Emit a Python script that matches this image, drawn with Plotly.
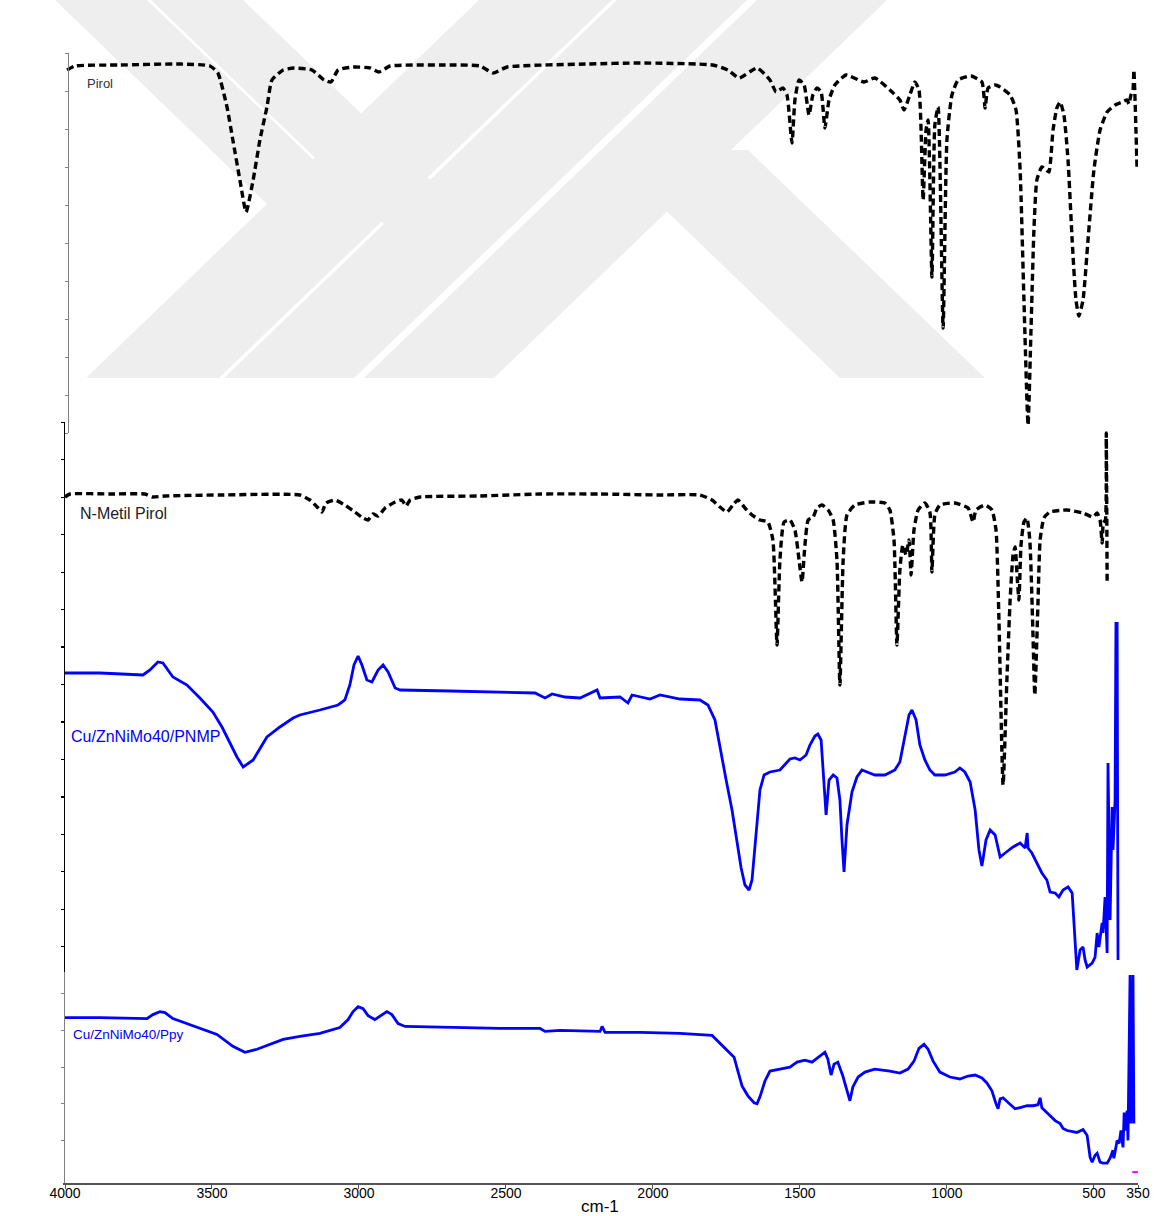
import plotly.graph_objects as go

# ---- FT-IR spectra (wavenumber in cm-1, transmittance in arbitrary units) ----

# Pirol
pirol_wn = [3993, 3966, 3813, 3609, 3507, 3480, 3449, 3429, 3405, 3384, 3360, 3337, 3313, 3296,
            3258, 3221, 3160, 3119, 3095, 3071, 3020, 2962, 2932, 2894, 2721, 2588, 2544, 2496,
            2221, 2044, 1796, 1745, 1707, 1646, 1602, 1581, 1558, 1544, 1527, 1517, 1503, 1486,
            1469, 1456, 1442, 1428, 1415, 1401, 1381, 1343, 1282, 1245, 1194, 1160, 1146, 1126,
            1109, 1095, 1081, 1071, 1064, 1051, 1041, 1030, 1013, 1000, 983, 962, 918, 881, 870,
            860, 836, 819, 785, 765, 751, 738, 724, 714, 704, 694, 677, 663, 653, 639, 626, 615,
            602, 588, 574, 561, 551, 537, 520, 500, 479, 455, 428, 404, 387, 381, 374, 367, 364,
            360, 357, 353]
pirol_t = [36.3, 36.7, 36.8, 36.9, 36.7, 36.0, 32.6, 29.3, 25.3, 22.1, 25.3, 29.3, 32.6, 35.3,
           36.3, 36.5, 36.3, 35.3, 35.1, 36.3, 36.6, 36.5, 36.1, 36.7, 36.8, 36.7, 36.0, 36.6,
           36.9, 37.0, 36.8, 36.3, 35.5, 36.5, 35.3, 34.1, 34.5, 33.8, 29.0, 33.3, 35.3, 34.8,
           31.8, 33.8, 34.5, 34.1, 30.5, 33.3, 34.8, 35.8, 35.1, 35.5, 34.3, 33.3, 32.3, 33.8,
           35.1, 34.3, 23.3, 30.3, 31.3, 15.6, 30.8, 32.6, 10.5, 29.3, 33.8, 35.3, 35.7, 35.1, 32.5,
           34.5, 34.8, 34.6, 33.8, 32.3, 26.3, 13.3, 0.8, 10.3, 20.3, 25.3, 26.6, 26.3, 26.1, 30.3,
           32.5, 33.1, 31.8, 27.3, 19.3, 13.3, 11.7, 13.3, 19.3, 26.3, 30.3, 32.1, 32.8, 33.1,
           33.3, 32.9, 33.8, 34.3, 36.3, 33.3, 30.3, 26.3]

# N-Metil Pirol
nmp_wn = [4000, 3983, 3847, 3728, 3704, 3660, 3473, 3201, 3167, 3139, 3126, 3112, 3082, 3048,
          3014, 2986, 2969, 2952, 2935, 2911, 2877, 2854, 2840, 2826, 2792, 2588, 2384, 2180,
          1976, 1840, 1799, 1772, 1748, 1728, 1711, 1687, 1663, 1636, 1609, 1592, 1578, 1568,
          1554, 1534, 1517, 1503, 1493, 1483, 1472, 1455, 1442, 1425, 1404, 1387, 1374, 1364,
          1353, 1340, 1313, 1262, 1211, 1194, 1180, 1170, 1160, 1150, 1139, 1129, 1122, 1112,
          1098, 1075, 1058, 1051, 1041, 1024, 973, 928, 911, 901, 870, 847, 833, 823, 809, 796,
          785, 775, 768, 761, 755, 748, 738, 728, 718, 708, 701, 690, 683, 670, 650, 592, 537,
          503, 489, 479, 472, 468, 461, 458, 455]
nmp_t = [30.0, 30.3, 30.3, 30.3, 30.0, 30.1, 30.2, 30.2, 29.7, 28.9, 28.5, 29.4, 29.7, 29.2,
         28.5, 27.9, 27.7, 28.3, 28.1, 28.9, 29.5, 29.7, 29.1, 29.7, 30.0, 30.1, 30.3, 30.3,
         30.2, 30.2, 29.7, 29.0, 28.5, 29.2, 29.7, 28.9, 28.2, 27.7, 27.5, 25.7, 15.2, 23.7,
         27.5, 27.7, 26.7, 23.7, 21.5, 25.2, 27.7, 28.0, 28.9, 29.2, 28.7, 27.7, 23.7, 11.2,
         23.7, 28.2, 29.2, 29.5, 29.4, 28.7, 25.7, 15.2, 22.7, 25.2, 24.2, 25.7, 22.2, 26.7,
         28.7, 29.4, 28.5, 22.5, 28.2, 29.2, 29.4, 28.9, 27.5, 28.7, 29.2, 28.7, 26.7, 17.7, 1.2,
         11.7, 19.7, 24.2, 25.0, 22.0, 19.7, 25.2, 27.5, 27.9, 25.7, 17.0, 10.2, 19.7, 25.7, 27.9,
         28.5, 28.7, 28.4, 28.0, 28.4, 27.7, 25.4, 27.4, 27.7, 36.4, 21.4]

# Cu/ZnNiMo40/PNMP
pnmp_wn = [4000, 3881, 3735, 3711, 3684, 3667, 3633, 3585, 3541, 3497, 3466, 3439, 3415, 3394,
           3360, 3313, 3269, 3224, 3201, 3133, 3071, 3048, 3031, 3017, 3003, 2990, 2973, 2956,
           2935, 2918, 2901, 2877, 2860, 2690, 2520, 2401, 2367, 2343, 2299, 2248, 2190, 2180,
           2112, 2085, 2071, 2010, 1976, 1908, 1840, 1813, 1789, 1772, 1751, 1731, 1714, 1700,
           1687, 1673, 1663, 1649, 1636, 1622, 1602, 1568, 1551, 1534, 1517, 1500, 1479, 1466,
           1449, 1439, 1428, 1422, 1411, 1401, 1387, 1374, 1364, 1357, 1350, 1340, 1323, 1306,
           1289, 1272, 1245, 1211, 1177, 1160, 1143, 1129, 1119, 1105, 1092, 1075, 1058, 1041,
           1007, 973, 956, 939, 921, 904, 891, 881, 867, 853, 836, 819, 802, 775, 751, 734, 727,
           724, 711, 694, 677, 660, 649, 632, 619, 605, 588, 574, 568, 561, 558, 547, 537, 530,
           523, 506, 496, 489, 483, 472, 469, 462, 455, 452, 445, 438, 435, 428, 425, 421, 418]
pnmp_t = [29.9, 29.9, 29.7, 30.2, 31.0, 30.9, 29.5, 28.7, 27.4, 26.0, 24.5, 22.9, 21.5, 20.5,
          21.2, 23.5, 24.5, 25.4, 25.7, 26.2, 26.7, 27.2, 28.7, 30.7, 31.6, 30.7, 29.2, 29.0,
          30.2, 30.7, 30.0, 28.4, 28.2, 28.1, 28.0, 27.9, 27.4, 27.8, 27.5, 27.4, 28.2, 27.4,
          27.5, 26.9, 27.7, 27.3, 27.7, 27.3, 27.2, 26.7, 25.2, 22.4, 19.2, 16.2, 13.2, 10.4,
          8.7, 8.2, 9.2, 14.2, 18.2, 19.7, 20.0, 20.2, 20.7, 21.3, 21.4, 21.2, 21.7, 22.7,
          23.6, 23.8, 23.2, 20.2, 15.7, 19.2, 19.7, 19.4, 17.2, 13.2, 10.0, 14.7, 18.0, 19.5,
          20.2, 20.0, 19.7, 19.7, 20.2, 21.0, 23.4, 25.7, 26.2, 25.2, 22.7, 21.2, 20.2, 19.7,
          19.7, 20.0, 20.4, 20.0, 19.0, 16.2, 12.2, 10.6, 13.2, 14.2, 13.7, 11.5, 11.9, 12.5,
          12.9, 12.4, 13.9, 12.4, 11.9, 10.9, 9.9, 9.2, 8.0, 7.9, 7.5, 8.2, 8.5, 7.9, 5.2, 1.9,
          0.2, 2.2, 2.5, 1.2, 0.5, 0.9, 1.5, 3.9, 2.5, 4.9, 3.9, 7.5, 1.9, 20.9, 5.2, 16.5, 12.2,
          17.2, 34.9, 34.9, 1.2]

# Cu/ZnNiMo40/Ppy
ppy_wn = [4000, 3881, 3721, 3701, 3677, 3660, 3633, 3585, 3541, 3483, 3429, 3388, 3347, 3313,
          3258, 3201, 3133, 3065, 3037, 3020, 3003, 2986, 2969, 2946, 2925, 2905, 2888, 2867,
          2843, 2690, 2520, 2384, 2367, 2316, 2180, 2173, 2163, 2044, 1908, 1799, 1772, 1745,
          1724, 1711, 1697, 1677, 1656, 1646, 1636, 1619, 1602, 1568, 1534, 1510, 1483, 1459,
          1432, 1415, 1405, 1394, 1384, 1371, 1354, 1340, 1330, 1320, 1302, 1279, 1245, 1194,
          1160, 1132, 1112, 1095, 1078, 1064, 1047, 1024, 990, 956, 928, 904, 881, 864, 847, 833,
          826, 819, 809, 791, 768, 751, 727, 707, 690, 683, 677, 656, 632, 615, 605, 591, 558,
          537, 523, 513, 506, 496, 489, 479, 469, 455, 445, 435, 432, 421, 414, 408, 401, 397,
          391, 387, 384, 377, 374, 367, 364]
ppy_t = [16.7, 16.7, 16.6, 17.0, 17.3, 17.2, 16.6, 16.1, 15.6, 15.0, 13.8, 13.2, 13.5, 13.9,
         14.5, 14.8, 15.1, 15.7, 16.5, 17.3, 17.8, 17.6, 16.9, 16.5, 16.9, 17.3, 17.0, 16.1,
         15.8, 15.7, 15.6, 15.6, 15.3, 15.4, 15.3, 15.8, 15.2, 15.2, 15.1, 14.9, 14.1, 13.3,
         12.7, 11.3, 9.8, 8.8, 8.1, 8.0, 8.7, 10.3, 11.3, 11.5, 11.7, 12.2, 12.4, 12.2,
         12.8, 13.2, 12.5, 10.9, 12.0, 12.2, 10.8, 9.3, 8.3, 9.7, 10.7, 11.2, 11.5, 11.3,
         11.1, 11.5, 12.3, 13.6, 14.0, 13.5, 12.3, 11.2, 10.7, 10.5, 10.8, 10.9, 10.6, 10.1,
         9.3, 8.0, 7.5, 8.5, 8.6, 8.1, 7.5, 7.6, 7.8, 7.8, 7.9, 8.6, 7.6, 7.0, 6.3, 6.0, 5.5,
         5.3, 5.1, 5.4, 4.8, 2.6, 2.1, 2.8, 3.0, 2.1, 2.0, 2.0, 2.5, 3.3, 2.5, 4.3, 4.0, 5.3,
         3.6, 7.1, 5.3, 7.3, 4.3, 21.0, 6.0, 21.0, 6.0]

x_ticks = [4000, 3500, 3000, 2500, 2000, 1500, 1000, 500, 350]

BLUE = "#0000ff"
DASHED = dict(color="#000000", width=3.4, dash="7px,4px", shape="spline", smoothing=0.5)
SOLID = dict(color=BLUE, width=2.8)

W, H = 1154, 1216
L, R, T, B = 63, 16, 40, 33
ph = H - T - B


def fy(py):
    return (H - B - py) / ph


def fx(px):
    return (px - L) / (W - L - R)


fig = go.Figure()
fig.add_trace(go.Scatter(x=pirol_wn, y=pirol_t, yaxis="y4", mode="lines", line=DASHED))
fig.add_trace(go.Scatter(x=nmp_wn, y=nmp_t, yaxis="y3", mode="lines", line=DASHED))
fig.add_trace(go.Scatter(x=pnmp_wn, y=pnmp_t, yaxis="y2", mode="lines", line=SOLID))
fig.add_trace(go.Scatter(x=ppy_wn, y=ppy_t, yaxis="y", mode="lines", line=SOLID))
fig.add_trace(go.Scatter(x=[360], y=[1.1], yaxis="y", mode="markers",
                         marker=dict(symbol="line-ew", size=4, line=dict(color="#ff00ff", width=2))))


def layer_axis(lo, hi, rng, color, pos, **ticks):
    ax = dict(domain=[fy(lo), fy(hi)], range=rng, anchor="free", position=pos,
              showline=True, linecolor=color, linewidth=1, ticks="outside", ticklen=3,
              tickcolor=color, tickwidth=1, showticklabels=False, showgrid=False,
              zeroline=False, automargin=False)
    ax.update(ticks)
    return ax


fig.update_layout(
    width=W, height=H, autosize=False,
    margin=dict(l=L, r=R, t=T, b=B, autoexpand=False),
    paper_bgcolor="white", plot_bgcolor="rgba(0,0,0,0)",
    showlegend=False,
    font=dict(family="Liberation Sans, Arial, sans-serif", color="#000000"),
    xaxis=dict(range=[4000 + 2 / 0.29397, 350], anchor="y", showline=True, linecolor="#555555",
               linewidth=1.5, ticks="outside", ticklen=4, tickcolor="#555555",
               tickvals=x_ticks, ticktext=[str(v) for v in x_ticks], ticklabelstandoff=-8,
               tickfont=dict(size=14), showgrid=False, zeroline=False, automargin=False),
    yaxis=layer_axis(1183, 972, [0, 21.3], "#808080", 0.0005,
                     tickmode="array", tickvals=[4.3, 8.0, 11.7, 15.4, 19.1]),
    yaxis2=layer_axis(972, 622, [0, 35.0], "#000000", 0.001,
                      tickmode="linear", tick0=2.55, dtick=3.745),
    yaxis3=layer_axis(797, 422, [0, 37.5], "#000000", 0.001,
                      tickmode="linear", tick0=0, dtick=3.75),
    yaxis4=layer_axis(433, 53, [0, 38.0], "#808080", fx(68),
                      tickmode="linear", tick0=0, dtick=3.8),
)

# light grey background logo made of slanted stripes (page pixel outlines)
logo_polys = [
    [(86, 378), (219, 378), (612, 0), (479, 0)],
    [(224, 378), (354, 378), (747, 0), (617, 0)],
    [(364, 378), (494, 378), (887, 0), (757, 0)],
    [(55, 0), (147, 0), (380, 224), (267, 204)],
    [(151, 0), (243, 0), (495, 242), (384, 224)],
    [(603, 150), (748, 150), (985, 378), (840, 378)],
]
for poly in logo_polys:
    path = "M " + " L ".join(f"{fx(px):.5f},{fy(py):.5f}" for px, py in poly) + " Z"
    fig.add_shape(type="path", path=path, xref="paper", yref="paper", layer="below",
                  fillcolor="#eeeeee", line=dict(width=0))

labels = [
    ("Pirol", 85, 83, 13, "#333333"),
    ("N-Metil Pirol", 78, 513, 16, "#222222"),
    ("Cu/ZnNiMo40/PNMP", 69, 736, 16, BLUE),
    ("Cu/ZnNiMo40/Ppy", 71, 1034, 13.5, BLUE),
]
for text, px, py, size, color in labels:
    fig.add_annotation(text=text, xref="paper", yref="paper", x=fx(px), y=fy(py),
                       xanchor="left", yanchor="middle", showarrow=False,
                       font=dict(size=size, color=color))

fig.add_annotation(text="cm-1", xref="paper", yref="paper", x=fx(600), y=fy(1206),
                   xanchor="center", yanchor="middle", showarrow=False,
                   font=dict(size=17, color="#000000"))

fig.write_html("out.html")
